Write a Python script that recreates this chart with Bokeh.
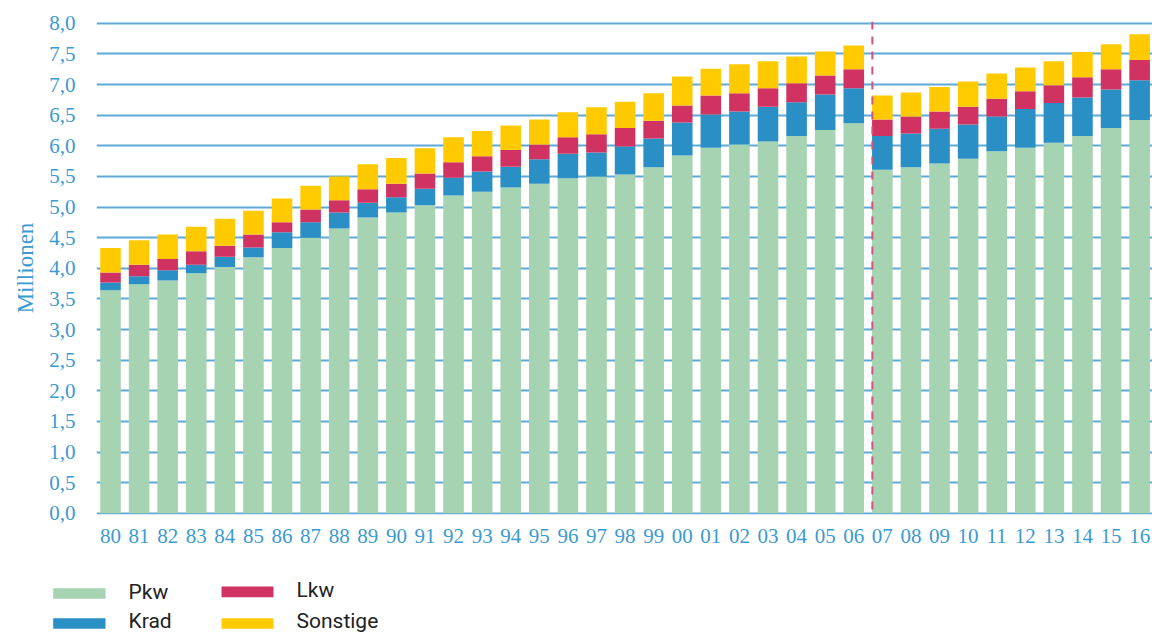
from bokeh.plotting import figure
from bokeh.models import ColumnDataSource, Range1d, FixedTicker, CustomJSTickFormatter, Span
from bokeh.embed import file_html
from bokeh.resources import INLINE
from bokeh.core.properties import value

# ---------------- data (millions) ----------------
years = ["80", "81", "82", "83", "84", "85", "86", "87", "88", "89", "90",
         "91", "92", "93", "94", "95", "96", "97", "98", "99",
         "00", "01", "02", "03", "04", "05", "06",
         "07", "08", "09", "10", "11", "12", "13", "14", "15", "16"]

pkw = [3.64, 3.74, 3.80, 3.92, 4.02, 4.18, 4.33, 4.50, 4.65, 4.83, 4.91,
       5.03, 5.19, 5.25, 5.32, 5.38, 5.47, 5.50, 5.53, 5.65,
       5.84, 5.97, 6.02, 6.07, 6.16, 6.26, 6.37,
       5.61, 5.65, 5.71, 5.79, 5.91, 5.97, 6.05, 6.16, 6.29, 6.42]
krad = [0.13, 0.13, 0.17, 0.14, 0.17, 0.16, 0.26, 0.25, 0.26, 0.24, 0.25,
        0.27, 0.29, 0.33, 0.34, 0.40, 0.40, 0.39, 0.46, 0.47,
        0.54, 0.54, 0.54, 0.57, 0.55, 0.58, 0.57,
        0.55, 0.55, 0.57, 0.56, 0.57, 0.63, 0.65, 0.63, 0.63, 0.65]
lkw = [0.16, 0.19, 0.18, 0.22, 0.18, 0.21, 0.16, 0.21, 0.20, 0.22, 0.22,
       0.25, 0.25, 0.25, 0.27, 0.24, 0.27, 0.30, 0.30, 0.29,
       0.28, 0.31, 0.30, 0.30, 0.31, 0.31, 0.31,
       0.27, 0.28, 0.28, 0.29, 0.29, 0.29, 0.29, 0.33, 0.33, 0.33]
sonstige = [0.40, 0.40, 0.40, 0.40, 0.44, 0.39, 0.39, 0.39, 0.39, 0.41, 0.42,
            0.41, 0.41, 0.41, 0.40, 0.41, 0.41, 0.44, 0.43, 0.45,
            0.47, 0.44, 0.47, 0.44, 0.44, 0.39, 0.39,
            0.39, 0.39, 0.40, 0.41, 0.41, 0.39, 0.39, 0.41, 0.41, 0.42]

series = ["Pkw", "Krad", "Lkw", "Sonstige"]
colors = ["#a6d3b1", "#2a8fc4", "#d03361", "#ffcb00"]
y_ticks = [0.0, 0.5, 1.0, 1.5, 2.0, 2.5, 3.0, 3.5, 4.0, 4.5, 5.0, 5.5, 6.0, 6.5, 7.0, 7.5, 8.0]
break_position = 26.65  # dashed separator before 2007

# ---------------- style ----------------
BLUE_TXT = "#3c9ad2"
GRID = "#5ea9d7"
SERIF = "Liberation Serif"
W = 1152
MAIN_H = 560
LEG_H = 74

x = list(range(len(years)))
source = ColumnDataSource(dict(x=x, Pkw=pkw, Krad=krad, Lkw=lkw, Sonstige=sonstige))

p = figure(width=W, height=MAIN_H, output_backend="svg", toolbar_location=None,
           x_range=Range1d(-0.49, 36.45), y_range=Range1d(-0.02, 8.03),
           min_border_left=96, min_border_right=0, min_border_top=21, min_border_bottom=46)
p.outline_line_color = None
p.background_fill_color = "white"

p.vbar_stack(series, x="x", width=0.72, fill_color=colors, line_color=None, source=source)

p.add_layout(Span(location=break_position, dimension="height", line_color="#d9507c",
                  line_dash="8 7", line_width=2))

# grid
p.xgrid.visible = False
p.ygrid.ticker = FixedTicker(ticks=y_ticks)
p.ygrid.grid_line_color = GRID
p.ygrid.grid_line_width = 2

# y axis
p.yaxis.ticker = FixedTicker(ticks=y_ticks)
p.yaxis.formatter = CustomJSTickFormatter(code="return tick.toFixed(1).replace('.', ',');")
p.yaxis.axis_line_color = None
p.yaxis.major_tick_line_color = None
p.yaxis.minor_tick_line_color = None
p.yaxis.major_label_standoff = 15
p.yaxis.major_label_text_font = SERIF
p.yaxis.major_label_text_font_size = "21px"
p.yaxis.major_label_text_color = BLUE_TXT
p.yaxis.axis_label = "Millionen"
p.yaxis.axis_label_text_font = SERIF
p.yaxis.axis_label_text_font_size = "23px"
p.yaxis.axis_label_text_font_style = "normal"
p.yaxis.axis_label_text_color = BLUE_TXT
p.yaxis.axis_label_standoff = 8

# x axis
p.xaxis.ticker = FixedTicker(ticks=x)
p.xaxis.formatter = CustomJSTickFormatter(args=dict(labels=years),
                                          code="return labels[Math.round(tick)];")
p.xaxis.axis_line_color = None
p.xaxis.major_tick_line_color = None
p.xaxis.minor_tick_line_color = None
p.xaxis.major_label_standoff = 8
p.xaxis.major_label_text_font = SERIF
p.xaxis.major_label_text_font_size = "21px"
p.xaxis.major_label_text_color = BLUE_TXT

# ---------------- legend strip (pixel coordinates) ----------------
leg = figure(width=W, height=LEG_H, output_backend="svg", toolbar_location=None,
             x_range=Range1d(0, W), y_range=Range1d(LEG_H, 0),
             x_axis_location=None, y_axis_location=None, min_border=0)
leg.outline_line_color = None
leg.grid.visible = False

sw_left = [52.7, 52.7, 221.0, 221.0]
sw_right = [105.0, 105.0, 273.0, 273.0]
sw_top = [27.7, 57.7, 26.0, 57.7]
sw_bottom = [38.3, 68.3, 36.7, 68.3]
tx_x = [128, 128, 296, 296]
tx_y = [31, 60.5, 29, 60.5]

leg.quad(left=sw_left, right=sw_right, top=sw_top, bottom=sw_bottom,
         fill_color=colors, line_color=None)
leg.text(x=tx_x, y=tx_y, text=series, text_font=value("Roboto"), text_font_size="21px",
         text_color="#222222", text_baseline="middle", text_align="left")

open("out.html", "w").write(file_html([p, leg], INLINE))
